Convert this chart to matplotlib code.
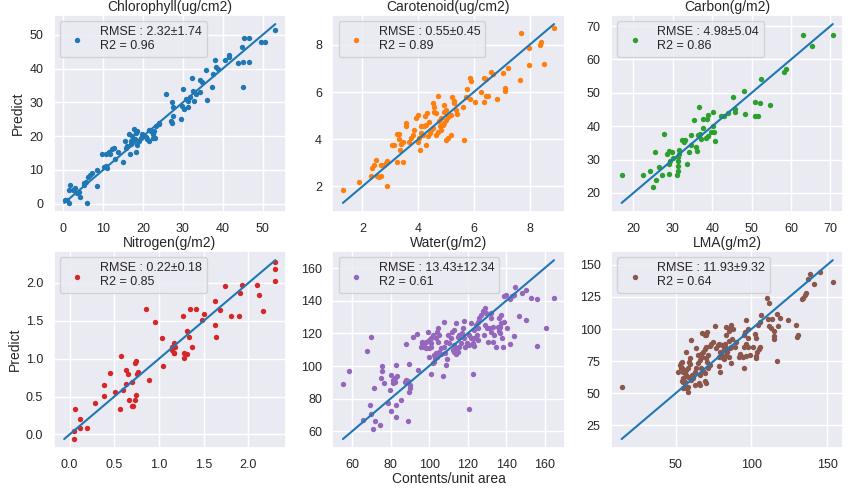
import matplotlib
matplotlib.use("Agg")
import matplotlib.pyplot as plt
import seaborn as sns
import numpy as np

sns.set_theme(style="darkgrid")
plt.rcParams['font.family'] = ['Liberation Sans', 'DejaVu Sans']

titles = ["Chlorophyll(ug/cm2)", "Carotenoid(ug/cm2)", "Carbon(g/m2)",
          "Nitrogen(g/m2)", "Water(g/m2)", "LMA(g/m2)"]
legend_labels = ["RMSE : 2.32\u00b11.74\nR2 = 0.96",
                 "RMSE : 0.55\u00b10.45\nR2 = 0.89",
                 "RMSE : 4.98\u00b15.04\nR2 = 0.86",
                 "RMSE : 0.22\u00b10.18\nR2 = 0.85",
                 "RMSE : 13.43\u00b112.34\nR2 = 0.61",
                 "RMSE : 11.93\u00b19.32\nR2 = 0.64"]
colors = ["#1f77b4", "#ff7f0e", "#2ca02c", "#d62728", "#9467bd", "#8c564b"]
line_color = "#1f77b4"

# Chlorophyll (measured, predicted)
chl = [(53.2,51.5),(49.7,47.8),(50.7,48),(45.4,49.2),(46.5,49),(44.9,46.3),(43.8,41.8),(45.2,42),(46.5,42),
       (45,34.7),(41.6,44),(41.6,43.5),(40.5,42.5),(38,42.7),(38.4,40.5),(38.8,40),(37.6,38.5),(35.9,39.7),
       (37.3,34.5),(36.1,30.7),(34.2,36.5),(34.8,36),(34.2,33),(33.4,32.5),(32.3,37.2),(32.5,33.5),(32.9,30.4),
       (31.7,31.5),(31.2,30.5),(30.8,31),(31.2,28.5),(30.4,28),(30,34),(29.8,29),(29.5,25),(27.4,28.5),(27.2,30),
       (27,24.5),(27.2,23.8),(27.6,26),(25.8,32.5),(23.9,24),(23.2,23),(22.8,21.5),(22.5,20.5),(22.4,19.5),(23,19.5),
       (21.4,21.7),(22,21.5),(20.7,19.7),(21.5,18.5),(21.1,19),(19.8,20.5),(19.4,19.5),(18.6,21.5),(18.2,21),(17.7,22),
       (18,19),(18.6,17.5),(19,18.5),(18.2,15.3),(17.3,20),(16.9,18.5),(16.5,20.7),(16,17),(16.6,14.7),(15.5,18.5),
       (15,12.2),(15.6,16.5),(13.8,15.3),(12.7,16.5),(12.2,16.3),(11.8,14.8),(11.4,15.2),(9.7,14.7),(10.7,14.7),
       (10.6,11.2),(10.1,10.8),(11,10.5),(8.4,10),(7.2,9),(6.8,8.5),(6.3,8),(8.4,5.3),(5.7,6.5),(5.3,6),(5.1,5.5),
       (5.9,0.2),(3.8,3.5),(3.4,3),(3,4.5),(2.5,4),(1.7,5.5),(1.4,4),(4.2,2),(0.4,1.2),(0.8,1),(1.4,0.3),
       (20.2,20.3),(24,23.5),(13,13.2),(17,17.8)]
chl_x = [p[0] for p in chl]
chl_y = [p[1] for p in chl]

car = [(8.88,8.72),(7.70,8.51),(8.42,8.13),(8.36,8.01),(7.97,7.85),(7.97,7.14),(8.52,7.18),(7.64,6.52),(7.22,7.0),
       (7.04,6.79),(7.13,6.18),(7.13,6.04),(6.84,5.70),(6.62,6.86),(6.68,6.75),(6.36,6.58),(6.42,6.54),(6.24,6.01),
       (6.44,5.83),(6.5,5.83),(6.38,5.56),(6.06,5.59),(5.88,6.58),(5.9,6.46),(5.75,6.13),(5.71,5.79),(5.87,5.70),
       (5.66,3.97),(5.6,5.38),(5.40,5.06),(5.36,5.24),(5.3,5.52),(5.28,5.62),(5.22,5.80),(5.18,5.03),(4.94,5.45),
       (5.0,5.24),(4.92,5.17),(5.06,4.96),(5.0,4.82),(4.94,4.68),(4.82,4.89),(4.76,4.77),(4.70,5.83),(4.52,5.55),
       (4.58,5.38),(4.56,5.17),(4.64,5.10),(5.18,4.18),(5.06,4.04),(5.0,3.97),(4.82,4.39),(4.73,4.30),(4.64,4.18),
       (4.88,4.61),(4.80,4.54),(4.52,4.46),(4.46,4.39),(4.44,4.25),(4.34,4.15),(4.32,5.10),(4.26,4.99),(4.40,4.72),
       (4.28,4.61),(4.22,4.54),(4.12,4.56),(4.10,4.25),(4.16,4.18),(4.04,4.04),(3.98,3.90),(3.98,5.03),(3.92,4.92),
       (4.08,3.55),(4.28,3.76),(3.86,4.39),(3.80,4.18),(3.74,4.04),(3.68,3.90),(3.56,4.68),(3.56,4.54),(3.44,3.90),
       (3.38,3.79),(3.32,4.0),(3.26,4.22),(3.32,4.23),(3.36,3.55),(3.44,3.03),(3.26,3.03),(3.08,3.76),(3.14,3.76),
       (2.90,3.08),(2.84,2.99),(2.78,2.89),(2.90,2.0),(2.66,2.92),(2.48,3.13),(2.40,2.92),(2.36,2.77),(2.54,2.45),
       (2.60,2.42),(2.66,2.45),(2.32,2.46),(1.88,2.18),(1.30,1.83)]
car_x = [p[0] for p in car]
car_y = [p[1] for p in car]

cbn = [(70.6,67.2),(63.0,67.2),(65.3,64.0),(58.8,57),(58.1,56.3),(52.3,54),(48.1,50.5),(45.3,48.8),(50.8,47.2),
       (52.2,46.8),(54.6,46.3),(50.8,43),(51.6,43.2),(48.2,43.7),(45.9,45.2),(45.9,44.2),(44,44),(43,43),(42.3,43),
       (40.1,44.3),(36.6,45.8),(38.8,43.5),(38.7,42.3),(37.7,42.3),(35.4,41.8),(37.7,39.5),(37,37.7),(40.1,40.2),
       (39.8,38.3),(40.5,38.2),(40.7,35.5),(38.9,37),(38.4,36.5),(37.2,36.3),(36.3,37.5),(34.7,37.5),(36,33.7),
       (36.2,32.5),(34.5,34.5),(34.1,32.2),(33.7,28.8),(33.1,36),(32.8,35.3),(32.4,36),(31.6,33),(31.6,31.8),
       (31.2,30.8),(31.4,29.5),(31.2,28),(31.2,26.5),(31,25.3),(29.9,32.3),(28.9,32.5),(28.6,31.8),(30.1,30.5),
       (29.3,29.5),(28.9,28.8),(28.9,25.7),(27.8,37.7),(25.5,32.2),(26.6,27.8),(27.2,25.3),(24.2,26.5),(22.4,25.3),
       (25.7,23.8),(24.9,21.8),(17.0,25.3)]
cbn_x = [p[0] for p in cbn]
cbn_y = [p[1] for p in cbn]

nit = [(2.30,2.28),(2.30,2.19),(2.30,2.03),(2.10,1.97),(2.12,1.84),(2.16,1.63),(1.93,1.97),(1.91,1.87),(1.89,1.56),
       (1.81,1.56),(1.74,1.96),(1.63,1.76),(1.68,1.64),(1.63,1.45),(1.64,1.28),(1.50,1.59),(1.48,1.51),(1.41,1.65),
       (1.35,1.65),(1.27,1.57),(1.31,1.36),(1.33,1.28),(1.37,1.16),(1.28,1.08),(1.31,1.06),(1.28,1.01),(1.17,1.21),
       (1.18,1.16),(1.14,1.15),(1.15,1.12),(1.17,1.08),(1.17,1.07),(1.03,1.27),(1.05,0.91),(0.95,1.48),(0.86,1.65),
       (0.89,0.72),(0.77,0.82),(0.75,0.80),(0.74,0.97),(0.73,0.94),(0.70,0.69),(0.74,0.52),(0.73,0.46),(0.70,0.38),
       (0.71,0.38),(0.65,0.80),(0.63,0.85),(0.58,1.03),(0.63,0.67),(0.66,0.46),(0.60,0.59),(0.51,0.56),(0.56,0.34),
       (0.45,0.81),(0.38,0.65),(0.38,0.51),(0.28,0.42),(0.20,0.09),(0.12,0.20),(0.12,0.08),(0.06,0.34),(0.05,0.04),
       (0.05,-0.06)]
nit_x = [p[0] for p in nit]
nit_y = [p[1] for p in nit]

wat = [(164.8,141.7),(160.5,123),(156.2,140.9),(152.8,141.7),(155.7,112.2),(150.2,146.8),(148,144.8),(150.2,128.1),
       (146.4,130.7),(144.7,148.4),(143.8,143.3),(142.8,142.7),(142.1,141.3),(139.8,143.3),(139,142.7),(143.8,118.3),
       (142.1,113.3),(140.3,123.4),(138.6,127.1),(137.2,126.5),(136.9,124),(135.5,124),(136.4,121.6),(137.2,131.5),
       (136.4,129.5),(136.9,120.4),(137.6,116.9),(138.1,111.8),(134.7,111.4),(133,123.6),(132.1,121),(131.2,123),
       (132.1,129.1),(132.1,132.6),(129.1,135.8),(129.5,132.2),(127.8,133.6),(126.9,131.1),(126,129.5),(125.5,127.1),
       (129.1,125),(130,123),(128.3,118.9),(130.7,114.9),(133,114.9),(133.4,118.9),(124.3,125),(125.2,123),(123.4,122),
       (124.8,118.9),(125.2,115.9),(123.1,116.9),(121.7,126.5),(120.9,118.9),(121.7,116.9),(120.9,112.8),(122.6,114.2),
       (123.4,112.2),(122.6,95),(120.5,73.6),(118.3,127.5),(117.4,123),(116.9,120),(118.3,116.9),(118.8,111.8),
       (119.7,113.9),(116.6,113.9),(115.7,111.8),(115.7,118.9),(114.8,117.9),(114,126.5),(113.1,122),(111.9,121),
       (111.4,116.9),(114,110.8),(114.8,108.8),(114,107.2),(112.8,112.8),(112.2,109.8),(113.1,108.4),(110.5,113.9),
       (107.9,127.1),(109.7,118.9),(108.8,114.9),(107.6,111.8),(108.3,107.8),(109.3,104.3),(108.8,100.7),(107.1,93.9),
       (106.2,110.8),(105.3,108.8),(106.2,107.2),(104.5,123),(104.1,121),(105.3,118.9),(103.6,116.9),(104.5,114.9),
       (104.1,105.7),(103.1,104.7),(102.8,102.7),(101.9,101.7),(103.6,107.8),(102.4,106.7),(101,116.9),(100.2,115.9),
       (101,113.9),(101.9,118.9),(99.3,121),(101,111.8),(99.7,110.8),(101,95),(99.7,105.7),(98.4,114.9),(97.6,113.9),
       (97.2,112.8),(98.4,110.8),(97.6,111.8),(96.2,113.9),(95.9,111.8),(96.4,114.9),(93.8,119.3),(91.6,117.9),
       (94.1,97.6),(89.8,101.1),(89.8,84.4),(90.3,86.4),(90.3,88.5),(88.9,90.9),(88.1,91.5),(87.6,90.5),(88.1,113.3),
       (89.3,66.5),(85.5,79.3),(82.9,100.7),(83.3,93.9),(82.4,92.9),(82.1,90.5),(81.2,89.5),(80.3,94.5),(81.2,91.5),
       (79.5,85.4),(82.9,76.3),(82.6,68.7),(80.3,72.2),(78.6,77.3),(76.6,89.5),(75.5,100.2),(75.7,97.2),(75.2,92.5),
       (74.3,64.1),(71.7,66.1),(70.9,61.4),(71.4,86.8),(69.7,117.9),(69.1,76.3),(70,70.6),(67.8,109.2),(65.7,67.1),
       (58.3,97),(55.3,88.9)]
wat_x = [p[0] for p in wat]
wat_y = [p[1] for p in wat]

lma = [(153.7,137),(145.4,144.8),(138.8,143),(137.3,139.1),(141.2,135.2),(136.2,128.2),(135.1,126.9),(134,124.1),
       (133.5,123.1),(124.1,106.8),(129.6,102.9),(130.7,95.7),(130.2,93.9),(117,112),(118.6,108.6),(117.5,102.2),
       (116.8,75),(113.7,108.1),(110.9,108.1),(110.4,124.1),(111.5,120.5),(111.5,102.2),(113,100.9),(114.8,98.3),
       (114.6,94.7),(114.8,92.6),(106,111.2),(104.3,102.9),(105.4,105.5),(105.4,86.1),(104.9,84.3),(103.8,81.8),
       (103.2,79.2),(102.7,77.1),(102.1,96.5),(102.7,93.1),(101,86.1),(96.6,106.8),(97.7,99.8),(95.5,97.8),
       (94.8,95.2),(97.7,93.1),(96.2,88.7),(97.7,86.1),(94.8,86.1),(98.8,79.7),(96.6,79.2),(94.4,78.4),(92.6,80.2),
       (91.8,78.4),(94.8,69.9),(90,90),(88.9,86.1),(87.4,92.6),(87.8,100.3),(86.3,100.9),(86.7,102.9),(83.4,101.6),
       (85.2,98.3),(83.4,95.7),(85.2,90.5),(82.3,88.7),(80.8,87.4),(83.4,84.9),(81.6,84.3),(85.6,84.9),(86.7,86.1),
       (84.1,81.8),(83,79.7),(85.2,78.4),(86.7,73.8),(78.6,88.7),(77.9,87.4),(76.8,85.4),(79,82.3),(80.1,80.2),
       (78.6,78.4),(81.4,77.1),(81.6,76.6),(78.6,71.2),(79,66.8),(75.7,102.2),(74.6,90),(73.5,88),(72.4,86.7),
       (70.7,97.8),(70.2,95.2),(67.6,97.2),(69.1,95.7),(70.2,86.1),(69.1,84.3),(71.3,79.7),(69.8,77.1),(70.7,74.5),
       (72.4,71.9),(71.3,69.4),(68,82.3),(66.9,80.2),(67.6,78.4),(66,75.8),(64.7,73.2),(66.9,69.9),(68,67.3),
       (69.1,65.5),(69.1,59.6),(70.2,57.7),(66,64.2),(65.4,57.7),(66,56.5),(63.6,85.4),(64.7,79.7),(63.2,69.4),
       (62.5,66.8),(60.9,64.2),(61.4,61.6),(60.3,60.3),(62.5,56.5),(60.3,91.8),(59.2,77.1),(58.8,74.5),(59.7,72.5),
       (58.1,69.4),(57,68.1),(55.9,66.8),(54.8,66.3),(54.4,69.9),(57,64.2),(58.1,62.9),(59.2,61.6),(54.8,62.1),
       (55.9,59),(57,82.3),(58.1,54.4),(57,53.9),(58.1,50.8),(54.4,59.6),(54.8,58.3),(54.4,74.5),(53.7,73.2),
       (52.6,72),(53.7,69.9),(51.5,66.3),(55.9,55.2),(54.8,53.9),(14.2,54.9)]
lma_x = [p[0] for p in lma]
lma_y = [p[1] for p in lma]

xs = [chl_x, car_x, cbn_x, nit_x, wat_x, lma_x]
ys = [chl_y, car_y, cbn_y, nit_y, wat_y, lma_y]

water_xticks = [60, 80, 100, 120, 140, 160]
lma_xticks = [50, 100, 150]
lma_yticks = [25, 50, 75, 100, 125, 150]
nit_xticks = [0.0, 0.5, 1.0, 1.5, 2.0]

fig, axes = plt.subplots(2, 3, figsize=(8.51, 4.88), dpi=100)
fig.subplots_adjust(left=0.063, right=0.991, top=0.969, bottom=0.082, wspace=0.2, hspace=0.2)

for i, ax in enumerate(axes.flat):
    x = np.array(xs[i]); y = np.array(ys[i])
    ax.scatter(x, y, s=15, color=colors[i], linewidths=0, label=legend_labels[i], zorder=2)
    lo = min(x.min(), y.min()); hi = max(x.max(), y.max())
    ax.plot([lo, hi], [lo, hi], color=line_color, lw=1.5, zorder=3)
    ax.set_title(titles[i], fontsize=10, pad=3)
    ax.tick_params(axis='x', labelsize=9, pad=2)
    ax.tick_params(axis='y', labelsize=9, pad=1.5)
    ax.legend(loc="upper left", fontsize=9, scatterpoints=1, handletextpad=0.8,
              borderpad=0.4, labelspacing=0.2)

axes[0, 0].set_ylabel("Predict", fontsize=10, labelpad=3)
axes[1, 0].set_ylabel("Predict", fontsize=10, labelpad=3)
axes[1, 1].set_xlabel("Contents/unit area", fontsize=10, labelpad=1)
axes[1, 0].set_xticks(nit_xticks)
axes[1, 1].set_xticks(water_xticks)
axes[1, 2].set_xticks(lma_xticks)
axes[1, 2].set_yticks(lma_yticks)

fig.savefig("out.png", dpi=100)
